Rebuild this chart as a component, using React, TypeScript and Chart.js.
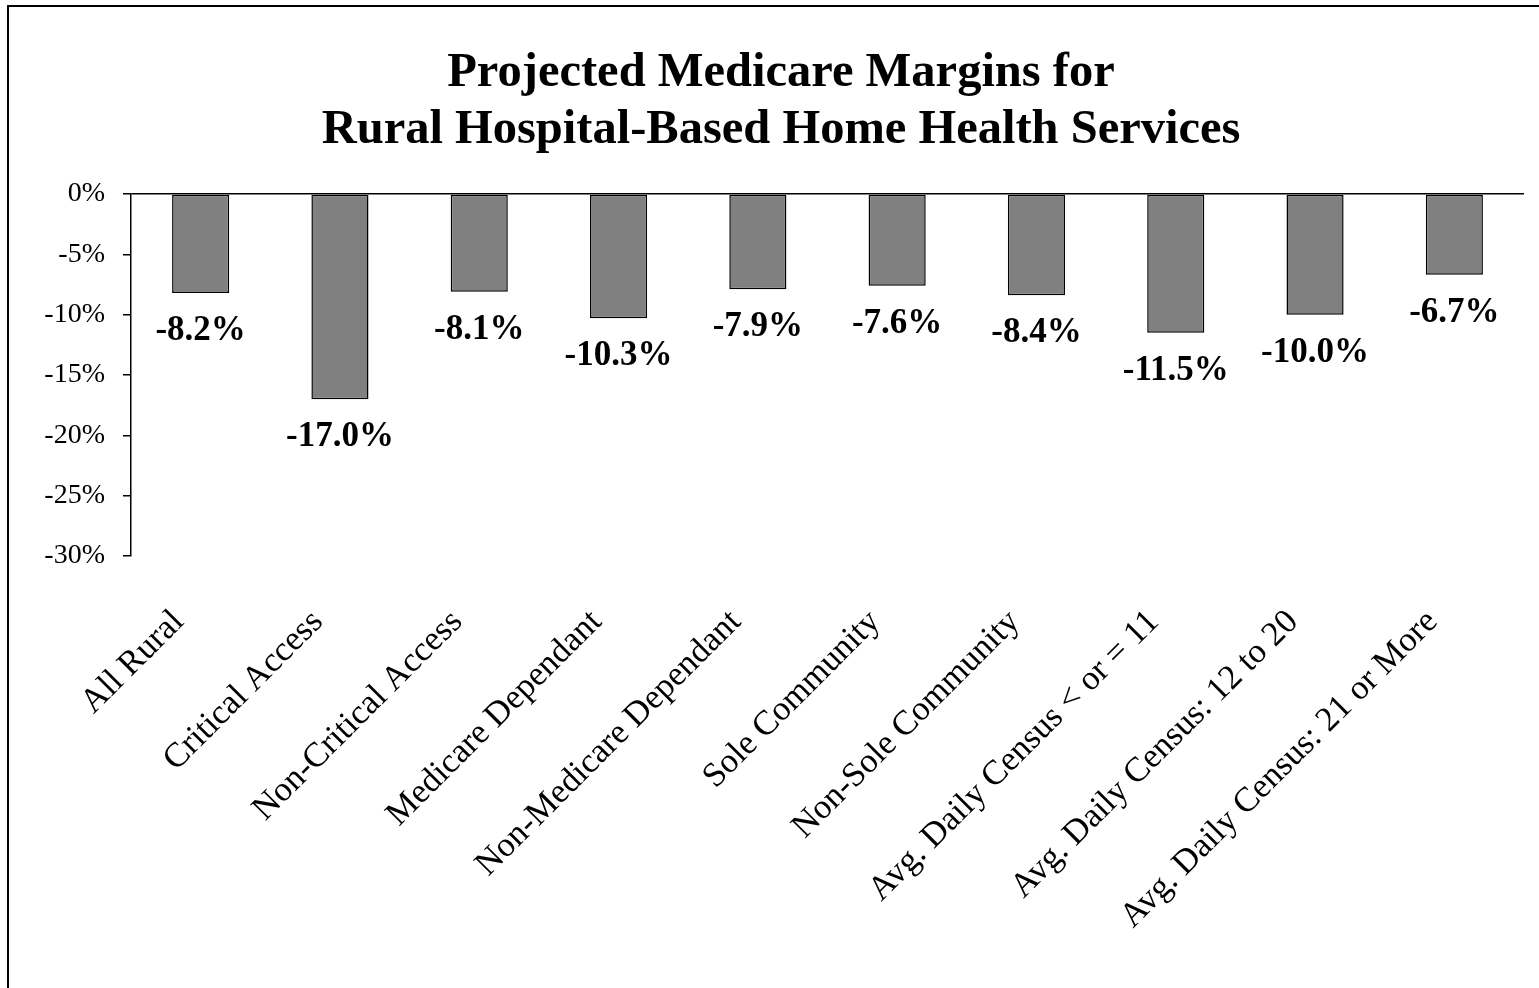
import React, { useEffect, useRef } from "react";
import { Chart, registerables } from "chart.js";

Chart.register(...registerables);

const categories: string[] = [
  "All Rural",
  "Critical Access",
  "Non-Critical Access",
  "Medicare Dependant",
  "Non-Medicare Dependant",
  "Sole Community",
  "Non-Sole Community",
  "Avg. Daily Census < or = 11",
  "Avg. Daily Census: 12 to 20",
  "Avg. Daily Census: 21 or More",
];

const margins: number[] = [-8.2, -17.0, -8.1, -10.3, -7.9, -7.6, -8.4, -11.5, -10.0, -6.7];

const titleLines: string[] = [
  "Projected Medicare Margins for",
  "Rural Hospital-Based Home Health Services",
];

const yMin = -30;
const yMax = 0;
const yStep = 5;

const FONT = "'Liberation Serif', 'Times New Roman', serif";

const valueLabels = {
  id: "valueLabels",
  afterDatasetsDraw(chart: any) {
    const { ctx } = chart;
    const meta = chart.getDatasetMeta(0);
    const data = chart.data.datasets[0].data as number[];
    ctx.save();
    ctx.font = `bold 35px ${FONT}`;
    ctx.fillStyle = "#000";
    ctx.textAlign = "center";
    ctx.textBaseline = "middle";
    meta.data.forEach((bar: any, i: number) => {
      ctx.fillText(data[i].toFixed(1) + "%", bar.x, bar.y + 38);
    });
    ctx.restore();
  },
};

export default function App() {
  const canvasRef = useRef<HTMLCanvasElement | null>(null);

  useEffect(() => {
    const canvas = canvasRef.current;
    if (!canvas) return;
    const chart = new Chart(canvas, {
      type: "bar",
      data: {
        labels: categories,
        datasets: [
          {
            data: margins,
            backgroundColor: "#808080",
            borderColor: "#000000",
            borderWidth: 1.5,
            borderSkipped: false,
            barPercentage: 0.41,
            categoryPercentage: 1,
          },
        ],
      },
      options: {
        animation: false,
        responsive: true,
        maintainAspectRatio: false,
        layout: { padding: { top: 0, left: 38, right: 15, bottom: 0 } },
        plugins: {
          legend: { display: false },
          tooltip: { enabled: false },
          title: {
            display: true,
            text: titleLines,
            color: "#000",
            font: { family: FONT, size: 48.5, weight: "bold", lineHeight: 57 / 48.5 },
            padding: { top: 45, bottom: 35 },
          },
        },
        scales: {
          x: {
            grid: { display: false, drawTicks: false },
            border: { display: false },
            ticks: {
              autoSkip: false,
              maxRotation: 45,
              minRotation: 45,
              padding: 46,
              labelOffset: -22,
              color: "#000",
              font: { family: FONT, size: 34.5 },
            },
            afterFit: (axis: any) => {
              axis.height = 988 - 556;
            },
          },
          y: {
            min: yMin,
            max: yMax,
            border: { display: true, color: "#000", width: 1.5 },
            grid: {
              color: (ctx: any) => (ctx.tick && ctx.tick.value === 0 ? "#000" : "rgba(0,0,0,0)"),
              lineWidth: 1.5,
              drawTicks: true,
              tickLength: 8,
              tickColor: "#000",
              tickWidth: 1.5,
            },
            ticks: {
              stepSize: yStep,
              padding: 18,
              color: "#000",
              font: { family: FONT, size: 28 },
              callback: (v: any) => `${v}%`,
            },
            afterFit: (axis: any) => {
              axis.width = 131 - 38;
            },
          },
        },
      },
      plugins: [valueLabels],
    });
    return () => chart.destroy();
  }, []);

  return (
    <div
      style={{
        position: "fixed",
        left: 0,
        top: 0,
        width: 1539,
        height: 988,
        overflow: "hidden",
        background: "#fff",
      }}
    >
      <div
        style={{
          position: "absolute",
          left: 7,
          top: 5,
          width: 1600,
          height: 1100,
          border: "2px solid #000",
        }}
      />
      <div style={{ position: "absolute", left: 0, top: 0, width: 1539, height: 988 }}>
        <canvas ref={canvasRef} />
      </div>
    </div>
  );
}
